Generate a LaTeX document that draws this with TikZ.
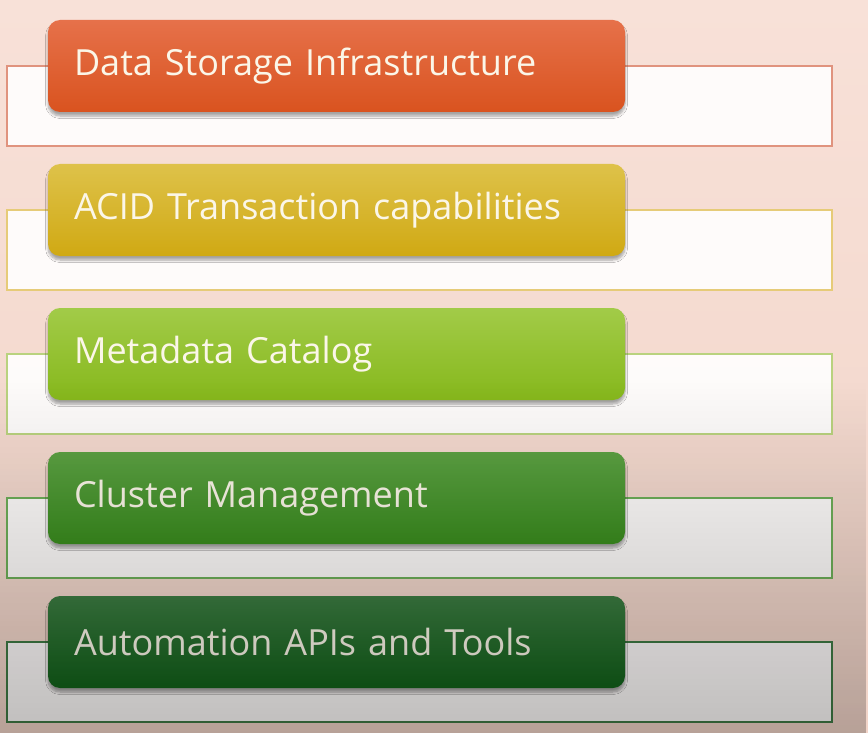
\documentclass[tikz,border=0pt]{standalone}
\usepackage{fontspec}
\setmainfont{Open Sans}
\usetikzlibrary{shadows.blur,fadings}

\definecolor{fondoA}{HTML}{F8E1D8}
\definecolor{fondoB}{HTML}{F1D4C8}
\definecolor{naranjaA}{HTML}{E6714A}
\definecolor{naranjaB}{HTML}{D9531F}
\definecolor{oroA}{HTML}{DEC24A}
\definecolor{oroB}{HTML}{D0A913}
\definecolor{limaA}{HTML}{A2CB48}
\definecolor{limaB}{HTML}{86B81C}
\definecolor{verdeA}{HTML}{5CA143}
\definecolor{verdeB}{HTML}{3A8D1E}
\definecolor{oscuroA}{HTML}{3C7C42}
\definecolor{oscuroB}{HTML}{12621A}
\definecolor{textoC}{HTML}{FBF6E8}
\definecolor{lineaA}{HTML}{E0937E}
\definecolor{lineaB}{HTML}{E6CB78}
\definecolor{lineaC}{HTML}{B9D27E}
\definecolor{lineaD}{HTML}{6DAE58}
\definecolor{lineaE}{HTML}{3F7A44}

\tikzfading[name=oscurece, top color=transparent!100, bottom color=transparent!0]

\begin{document}
\begin{tikzpicture}[x=1pt,y=-1pt,
    marco/.style={draw=#1, line width=1.2pt, fill=white, fill opacity=0.9,
      minimum width=825pt, minimum height=80pt, inner sep=0pt},
    caja/.style={rounded corners=12pt, minimum width=577pt, minimum height=92pt,
      inner xsep=26pt, text width=525pt, align=left, text=textoC,
      font=\fontsize{36}{42}\selectfont,
      blur shadow={shadow xshift=0pt, shadow yshift=-4pt, shadow blur radius=2.5pt,
        shadow blur steps=6, shadow opacity=35}}]
        % Paso 1: Fondo y area del dibujo
        \useasboundingbox (0,0) rectangle (868,733);
        \shade[top color=fondoA, bottom color=fondoB] (0,0) rectangle (868,733);

        % Paso 2: Marcos blancos detras de cada caja
        \node[marco=lineaA] (M1) at (419.5,106) {};
        \node[marco=lineaB] (M2) at (419.5,250) {};
        \node[marco=lineaC] (M3) at (419.5,394) {};
        \node[marco=lineaD] (M4) at (419.5,538) {};
        \node[marco=lineaE] (M5) at (419.5,682) {};

        % Paso 3: Cajas de color con su texto
        \node[caja, top color=naranjaA, bottom color=naranjaB] (A) at (336.5,66) {Data Storage Infrastructure};
        \node[caja, top color=oroA, bottom color=oroB] (B) at (336.5,210) {ACID Transaction capabilities};
        \node[caja, top color=limaA, bottom color=limaB] (C) at (336.5,354) {Metadata Catalog};
        \node[caja, top color=verdeA, bottom color=verdeB] (D) at (336.5,498) {Cluster Management};
        \node[caja, top color=oscuroA, bottom color=oscuroB] (E) at (336.5,642) {Automation APIs and Tools};

        % Paso 4: Sombra suave hacia abajo
        \fill[black, fill opacity=0.24, path fading=oscurece] (0,380) rectangle (868,733);
    \end{tikzpicture}
\end{document}
